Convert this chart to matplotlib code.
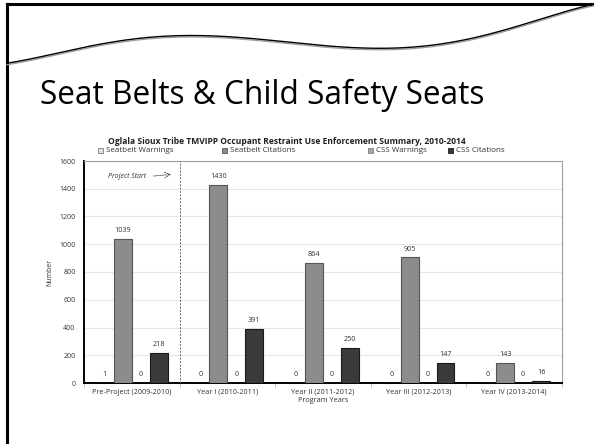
import matplotlib
matplotlib.use("Agg")
import matplotlib.pyplot as plt
import numpy as np
from matplotlib.lines import Line2D
from matplotlib.patches import Rectangle

categories = ["Pre-Project (2009-2010)", "Year I (2010-2011)", "Year II (2011-2012)\nProgram Years",
              "Year III (2012-2013)", "Year IV (2013-2014)"]
series_names = ["Seatbelt Warnings", "Seatbelt Citations", "CSS Warnings", "CSS Citations"]
seatbelt_warnings = [1, 0, 0, 0, 0]
seatbelt_citations = [1039, 1430, 864, 905, 143]
css_warnings = [0, 0, 0, 0, 0]
css_citations = [218, 391, 250, 147, 16]
yticks = [0, 200, 400, 600, 800, 1000, 1200, 1400, 1600]

colors = ["#e0e0e0", "#8c8c8c", "#a6a6a6", "#3a3a3a"]
edges = ["#7f7f7f", "#555555", "#7f7f7f", "#1a1a1a"]

plt.rcParams['font.family'] = ['Open Sans', 'DejaVu Sans']

fig = plt.figure(figsize=(5.94, 4.44), dpi=100)
W, H = 594, 444

# slide border (top and left)
fig.add_artist(Line2D([7/W, 1], [1-4/H, 1-4/H], color="black", lw=2.2, transform=fig.transFigure))
fig.add_artist(Line2D([7/W, 7/W], [1-4/H, 0], color="black", lw=2.2, transform=fig.transFigure))

# decorative swoosh
sx = np.array([7, 60, 120, 170, 230, 300, 360, 420, 480, 540, 594])
sy = np.array([63, 53, 41, 35, 37, 44, 48, 46, 36, 20, 4])
xs = np.linspace(7, 594, 200)
c = np.polyfit(sx, sy, 5)
ys = np.polyval(c, xs)
fig.add_artist(Line2D(xs/W, 1-(ys+1.5)/H, color="#9a9a9a", lw=0.9, transform=fig.transFigure))
fig.add_artist(Line2D(xs/W, 1-ys/H, color="black", lw=1.0, transform=fig.transFigure))

# big title
fig.text(40/W, 1-104/H, "Seat Belts & Child Safety Seats", fontsize=22.8, ha="left", va="baseline",
         family=["Open Sans", "DejaVu Sans"], color="black")

ax = fig.add_axes([84/W, 1-383/H, (562-84)/W, (383-161)/H])
x = np.arange(len(categories))
w = 0.1875
data = [seatbelt_warnings, seatbelt_citations, css_warnings, css_citations]
offsets = [-1.5*w, -0.5*w, 0.5*w, 1.5*w]
for i, (vals, off) in enumerate(zip(data, offsets)):
    ax.bar(x + off, vals, w, color=colors[i], edgecolor=edges[i], linewidth=0.8, zorder=3,
           label=series_names[i])
    for xi, v in zip(x + off, vals):
        ax.text(xi, v + 35, str(v), ha="center", va="bottom", fontsize=5.2, color="#333333")

ax.set_ylim(0, 1600)
ax.set_xlim(-0.5, 4.5)
ax.set_yticks(yticks)
ax.set_yticklabels([str(t) for t in yticks], fontsize=5, color="#333333")
ax.set_xticks(x)
ax.set_xticklabels(categories, fontsize=5.2, color="#333333")
ax.set_xticks(np.arange(-0.5, 5, 1), minor=True)
ax.tick_params(axis="x", which="major", length=0, pad=4)
ax.tick_params(axis="x", which="minor", length=3, color="#bbbbbb")
ax.tick_params(axis="y", length=0, pad=6)
ax.grid(axis="y", color="#e6e6e6", lw=0.8, zorder=0)
ax.spines["left"].set_color("black")
ax.spines["left"].set_linewidth(1.4)
ax.spines["bottom"].set_color("black")
ax.spines["bottom"].set_linewidth(1.4)
ax.spines["top"].set_color("#a0a0a0")
ax.spines["right"].set_color("#a0a0a0")
ax.spines["top"].set_linewidth(0.8)
ax.spines["right"].set_linewidth(0.8)
ax.set_ylabel("Number", fontsize=5, color="#333333", labelpad=4)

# project start
ax.axvline(0.5, color="#666666", lw=0.7, ls=(0, (2, 1.5)), zorder=4)
ax.text(-0.25, 1490, "Project Start", fontsize=5, style="italic", color="#333333", va="center", ha="left")
ax.annotate("", xy=(0.44, 1505), xytext=(0.2, 1490),
            arrowprops=dict(arrowstyle="->", ls=(0, (2, 1.5)), color="#444444", lw=0.6))

fig.text(287/W, 1-141/H, "Oglala Sioux Tribe TMVIPP Occupant Restraint Use Enforcement Summary, 2010-2014",
         fontsize=6.1, fontweight="bold", ha="center", va="center", color="#222222")

# legend (manual placement, Excel-like)
leg_x = [98, 222, 368, 448]
for i in range(4):
    fig.add_artist(Rectangle((leg_x[i]/W, 1-153/H), 5/W, 5/H, facecolor=colors[i], edgecolor=edges[i],
                             linewidth=0.6, transform=fig.transFigure))
    fig.text((leg_x[i]+8)/W, 1-150.5/H, series_names[i], fontsize=5.8, ha="left", va="center", color="#333333")

fig.savefig("out.png", dpi=100)
